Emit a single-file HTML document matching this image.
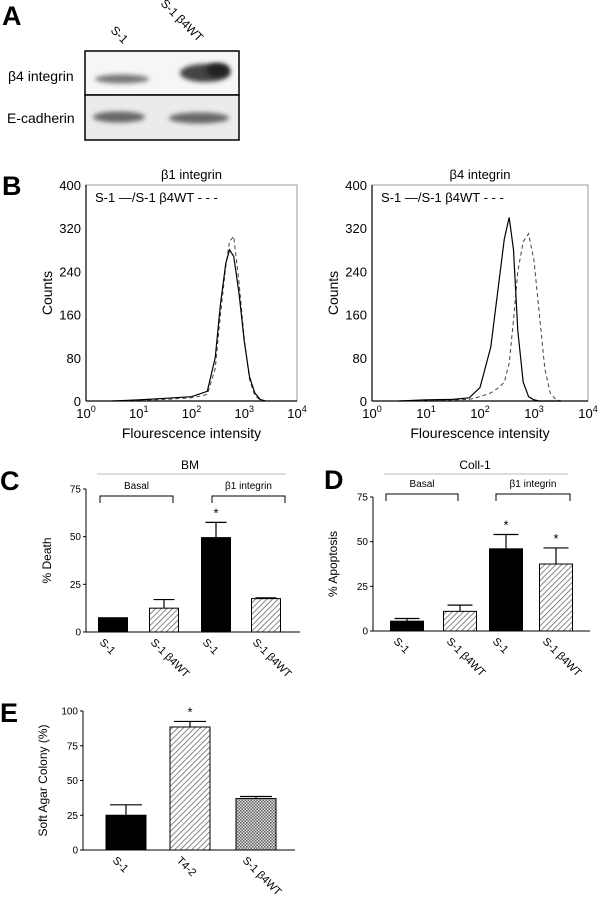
<!DOCTYPE html>
<html><head><meta charset="utf-8"><style>
html,body{margin:0;padding:0;background:#fff;}
svg{display:block;font-family:"Liberation Sans",Arial,sans-serif;}
</style></head><body>
<svg id="fig" width="601" height="900" viewBox="0 0 601 900" xmlns="http://www.w3.org/2000/svg">
<defs>
<pattern id="hatch" patternUnits="userSpaceOnUse" width="4" height="4" patternTransform="rotate(45)"><rect width="4" height="4" fill="#fff"/><line x1="0" y1="0" x2="0" y2="4" stroke="#555" stroke-width="1.4"/></pattern>
<pattern id="cross" patternUnits="userSpaceOnUse" width="3" height="3"><rect width="3" height="3" fill="#ddd"/><rect width="1.5" height="1.5" fill="#666"/><rect x="1.5" y="1.5" width="1.5" height="1.5" fill="#666"/></pattern>
<filter id="blur" x="-30%" y="-100%" width="160%" height="300%"><feGaussianBlur stdDeviation="2.5"/></filter>
</defs>
<!-- Panel A -->
<text x="2" y="25" font-size="27" font-weight="bold">A</text>
<text transform="translate(110,31) rotate(45)" font-size="12">S-1</text>
<text transform="translate(160,4) rotate(45)" font-size="12">S-1 β4WT</text>
<g>
<rect x="85" y="51" width="154" height="44" fill="#f6f6f6" stroke="#000" stroke-width="1.5"/>
<rect x="85" y="95" width="154" height="45" fill="#ebebeb" stroke="#000" stroke-width="1.5"/>
<ellipse cx="122" cy="79" rx="27" ry="4.5" fill="#777" filter="url(#blur)"/>
<ellipse cx="205" cy="73" rx="25" ry="9" fill="#444" filter="url(#blur)"/>
<ellipse cx="218" cy="70" rx="12" ry="7" fill="#222" filter="url(#blur)"/>
<ellipse cx="119" cy="117" rx="26" ry="5.5" fill="#666" filter="url(#blur)"/>
<ellipse cx="199" cy="118" rx="30" ry="5.5" fill="#666" filter="url(#blur)"/>
</g>
<text x="8" y="81" font-size="14">β4 integrin</text>
<text x="7" y="123" font-size="14">E-cadherin</text>
<!-- Panel B -->
<text x="2" y="195" font-size="27" font-weight="bold">B</text>
<g id="b1"></g><g id="b2"></g>
<!-- Panel C/D/E -->
<text x="0" y="490" font-size="27" font-weight="bold">C</text>
<text x="324" y="489" font-size="27" font-weight="bold">D</text>
<text x="0" y="722" font-size="27" font-weight="bold">E</text>
<g id="pc"></g><g id="pd"></g><g id="pe"></g>
</svg>
<script>
// ---- Panel B data (log10 intensity, counts) ----
const b1Logs = [0.5,1.0,1.5,2.0,2.3,2.45,2.55,2.65,2.72,2.8,2.9,3.0,3.1,3.2,3.3,3.4];
const b1Solid = [0,2,5,8,18,80,180,255,280,268,200,110,45,15,3,0];
const b1Dashed = [0,1,3,6,12,60,160,250,295,305,220,115,40,10,2,0];
const b2Logs = [0.5,1.0,1.5,1.8,2.0,2.2,2.35,2.45,2.54,2.62,2.7,2.8,2.9,3.0,3.1,3.2,3.3,3.4,3.5];
const b2Solid = [0,2,3,6,25,100,220,300,340,280,130,35,8,2,0,0,0,0,0];
const b2Dashed = [0,1,2,3,8,15,25,35,70,150,240,295,310,260,160,60,15,3,0];
const bTicksY = [0,80,160,240,320,400];
const bTicksX = ["0","1","2","3","4"];
// ---- Panel C ----
const cCats = ["S-1","S-1 β4WT","S-1","S-1 β4WT"];
const cVals = [7.5,12.5,49.5,17.5];
const cErr = [0,4.5,8,0.4];
const cStar = [false,false,true,false];
// ---- Panel D ----
const dCats = ["S-1","S-1 β4WT","S-1","S-1 β4WT"];
const dVals = [5.5,11,46,37.5];
const dErr = [1.5,3.5,8,9];
const dStar = [false,false,true,true];
const cdTicks = [0,25,50,75];
// ---- Panel E ----
const eCats = ["S-1","T4-2","S-1 β4WT"];
const eVals = [25,88.5,37];
const eErr = [7.5,4,1.5];
const eStar = [false,true,false];
const eTicks = [0,25,50,75,100];

const NS="http://www.w3.org/2000/svg";
function mk(tag, attrs, parent){const e=document.createElementNS(NS,tag);for(const k in attrs)e.setAttribute(k,attrs[k]);parent.appendChild(e);return e;}

function histo(g, x0, x1, yTop, yBot, title, logs, solid, dashed){
  const xs=v=>x0+v*(x1-x0)/4, ys=v=>yBot-v*(yBot-yTop)/400;
  let el=mk('rect',{x:x0,y:yTop,width:x1-x0,height:yBot-yTop,fill:'none',stroke:'#999','stroke-width':1},g);
  
  
  el=mk('line',{x1:x0,y1:yBot,x2:x1,y2:yBot,stroke:'#000','stroke-width':1.2},g);
  
  
  el=mk('line',{x1:x0,y1:yTop,x2:x0,y2:yBot,stroke:'#000','stroke-width':1.2},g);
  
  
  bTicksY.forEach(t=>{
    el=mk('text',{x:x0-5,y:ys(t)+5,'font-size':13,'text-anchor':'end'},g);el.textContent=t;
    
    
  });
  bTicksX.forEach((t,i)=>{
    el=mk('text',{x:xs(i),y:yBot+17,'font-size':13,'text-anchor':'middle'},g);
    el.innerHTML='10<tspan dy="-6" font-size="9">'+t+'</tspan>';
    
    
  });
  el=mk('text',{x:(x0+x1)/2,y:yTop-6,'font-size':13,'text-anchor':'middle'},g);el.textContent=title;
  
  
  el=mk('text',{x:(x0+x1)/2,y:yBot+37,'font-size':14,'text-anchor':'middle'},g);el.textContent='Flourescence intensity';
  
  
  el=mk('text',{transform:'translate('+(x0-34)+','+((yTop+yBot)/2)+') rotate(-90)','font-size':14,'text-anchor':'middle'},g);el.textContent='Counts';
  
  
  el=mk('text',{x:x0+9,y:yTop+17,'font-size':13},g);el.textContent='S-1 \u2014/S-1 β4WT - - -';
  
  
  const pd=a=>a.map((v,i)=>(i?'L':'M')+xs(logs[i]).toFixed(1)+','+ys(v).toFixed(1)).join('');
  el=mk('path',{d:pd(dashed),fill:'none',stroke:'#444','stroke-width':1,'stroke-dasharray':'4,3'},g);
  
  
  el=mk('path',{d:pd(solid),fill:'none',stroke:'#000','stroke-width':1.2},g);
  
  
}
histo(document.getElementById('b1'),86,297,185,401,'β1 integrin',b1Logs,b1Solid,b1Dashed);
histo(document.getElementById('b2'),372,588,185,401,'β4 integrin',b2Logs,b2Solid,b2Dashed);

function bars(g, ax, axEnd, yTop, yBot, maxV, ticks, centers, w, cats, vals, errs, stars, fills, ylab, labX){
  const ys=v=>yBot-v*(yBot-yTop)/maxV;
  let el=mk('line',{x1:ax,y1:yTop,x2:ax,y2:yBot,stroke:'#000','stroke-width':1},g);
  
  
  el=mk('line',{x1:ax,y1:yBot,x2:axEnd,y2:yBot,stroke:'#000','stroke-width':1},g);
  
  
  ticks.forEach(t=>{
    el=mk('line',{x1:ax-3,y1:ys(t),x2:ax,y2:ys(t),stroke:'#000'},g);
    
    
    el=mk('text',{x:ax-5,y:ys(t)+3.5,'font-size':10,'text-anchor':'end'},g);el.textContent=t;
    
    
  });
  el=mk('text',{transform:'translate('+labX+','+((yTop+yBot)/2)+') rotate(-90)','font-size':12,'text-anchor':'middle'},g);el.textContent=ylab;
  
  
  vals.forEach((v,i)=>{
    const c=centers[i];
    if(errs[i]>0){
      el=mk('path',{d:'M'+c+','+ys(v)+'V'+ys(v+errs[i])+'M'+(c-w/2+4)+','+ys(v+errs[i])+'H'+(c+w/2-4),stroke:'#000','stroke-width':1.2,fill:'none'},g);
      
      
    }
    el=mk('rect',{x:c-w/2,y:ys(v),width:w,height:yBot-ys(v),fill:fills[i],stroke:'#000','stroke-width':1},g);
    
    
    if(stars[i]){
      el=mk('text',{x:c,y:ys(v+errs[i])-5,'font-size':13,'text-anchor':'middle'},g);el.textContent='*';
      
      
    }
    el=mk('text',{transform:'translate('+(c-14)+','+(yBot+11)+') rotate(45)','font-size':11},g);el.textContent=cats[i];
    
    
  });
}
function groupHdr(g, title, tx, lx1, lx2, ly, br){
  let el=mk('text',{x:tx,y:ly-5,'font-size':12,'text-anchor':'middle'},g);el.textContent=title;
  
  
  el=mk('line',{x1:lx1,y1:ly,x2:lx2,y2:ly,stroke:'#bbb'},g);
  
  
  br.forEach(b=>{
    el=mk('path',{d:'M'+b[0]+','+(b[2]+7)+'V'+b[2]+'H'+b[1]+'V'+(b[2]+7),fill:'none',stroke:'#000'},g);
    
    
    el=mk('text',{x:(b[0]+b[1])/2,y:b[2]-7,'font-size':10,'text-anchor':'middle'},g);el.textContent=b[3];
    
    
  });
}
const gc=document.getElementById('pc');
groupHdr(gc,'BM',190,97,286,474,[[100,173,496,'Basal'],[212,285,496,'β1 integrin']]);
bars(gc,86,300,489,632,75,cdTicks,[113,164,216,266],29,cCats,cVals,cErr,cStar,['#000','url(#hatch)','#000','url(#hatch)'],'% Death',51);
const gd=document.getElementById('pd');
groupHdr(gd,'Coll-1',475,384,568,474,[[386,458,494,'Basal'],[496,570,494,'β1 integrin']]);
bars(gd,373,590,497,631,75,cdTicks,[407,460,506,556],33,dCats,dVals,dErr,dStar,['#000','url(#hatch)','#000','url(#hatch)'],'% Apoptosis',337);
const ge=document.getElementById('pe');
bars(ge,83,295,711,850,100,eTicks,[126,190,256],40,eCats,eVals,eErr,eStar,['#000','url(#hatch)','url(#cross)'],'Soft Agar Colony (%)',47);
</script>
</body></html>
